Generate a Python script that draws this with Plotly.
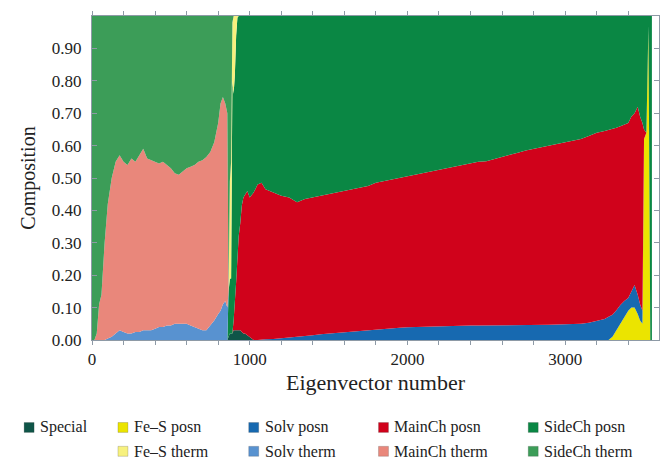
import plotly.graph_objects as go

# ---- eigenvector composition data (fraction of each mode class) ----
# thermal-fluctuation modes, eigenvectors 0-858
therm_x = [0, 15, 30, 45, 60, 80, 100, 125, 150, 175, 200, 225, 250, 275, 300, 325, 350,
           375, 400, 425, 450, 475, 500, 525, 550, 575, 600, 625, 650, 675, 700, 725, 750,
           775, 800, 815, 830, 845, 858]
therm_solv = [0, 0, 0, 0, 0, 0, 0.005, 0.01, 0.02, 0.03, 0.025, 0.02, 0.02, 0.025, 0.025,
              0.03, 0.03, 0.03, 0.035, 0.04, 0.04, 0.045, 0.045, 0.05, 0.05, 0.05, 0.05,
              0.045, 0.04, 0.035, 0.03, 0.03, 0.045, 0.06, 0.08, 0.09, 0.11, 0.12, 0.10]
therm_main = [0, 0, 0.02, 0.11, 0.14, 0.30, 0.415, 0.49, 0.53, 0.54, 0.525, 0.52, 0.54,
              0.525, 0.545, 0.56, 0.53, 0.525, 0.515, 0.505, 0.51, 0.495, 0.485, 0.465,
              0.46, 0.47, 0.48, 0.49, 0.50, 0.515, 0.525, 0.535, 0.535, 0.55, 0.59, 0.64,
              0.64, 0.61, 0.60]
therm_side = [1.0, 1.0, 0.98, 0.89, 0.86, 0.70, 0.58, 0.50, 0.45, 0.43, 0.45, 0.46, 0.44,
              0.45, 0.43, 0.41, 0.44, 0.445, 0.45, 0.455, 0.45, 0.46, 0.47, 0.485, 0.49,
              0.48, 0.47, 0.465, 0.46, 0.45, 0.445, 0.435, 0.42, 0.39, 0.33, 0.27, 0.25,
              0.27, 0.30]

# crossover region, eigenvectors 866-1000
trans_x = [866, 874, 882, 890, 898, 906, 914, 922, 930, 940, 950, 960, 970, 985, 1000]
trans_special = [0.01, 0.02, 0.02, 0.02, 0.03, 0.03, 0.03, 0.03, 0.03, 0.03, 0.025, 0.02,
                 0.02, 0.015, 0.01]
trans_main_p = [0, 0, 0, 0, 0.03, 0.08, 0.15, 0.22, 0.29, 0.33, 0.39, 0.42, 0.43, 0.445, 0.43]
trans_side_p = [0.14, 0.17, 0.17, 0.78, 0.70, 0.71, 0.76, 0.745, 0.68, 0.64, 0.585, 0.56,
                0.55, 0.54, 0.56]
trans_fes_t = [0, 0.30, 0.36, 0.18, 0.24, 0.18, 0.06, 0.005, 0, 0, 0, 0, 0, 0, 0]
trans_side_t = [0.85, 0.51, 0.45, 0.02, 0, 0, 0, 0, 0, 0, 0, 0, 0, 0, 0]

# positional-displacement modes, eigenvectors 1025-3250
posn_x = [1025, 1050, 1075, 1100, 1150, 1200, 1250, 1300, 1350, 1400, 1450, 1500, 1550,
          1600, 1650, 1700, 1750, 1800, 1850, 1900, 1950, 2000, 2050, 2100, 2150, 2200,
          2250, 2300, 2350, 2400, 2450, 2500, 2550, 2600, 2650, 2700, 2750, 2800, 2850,
          2900, 2950, 3000, 3050, 3100, 3150, 3200, 3250]
posn_solv = [0.0, 0.0, 0.0, 0.002, 0.003, 0.005, 0.008, 0.010, 0.012, 0.015, 0.018, 0.020,
             0.022, 0.025, 0.027, 0.030, 0.031, 0.033, 0.034, 0.036, 0.038, 0.039, 0.040,
             0.041, 0.042, 0.043, 0.043, 0.044, 0.044, 0.045, 0.045, 0.045, 0.045, 0.045,
             0.045, 0.046, 0.046, 0.046, 0.047, 0.047, 0.048, 0.048, 0.049, 0.050, 0.053,
             0.058, 0.065]
posn_main = [0.455, 0.480, 0.485, 0.463, 0.452, 0.440, 0.432, 0.415, 0.423, 0.425, 0.427,
             0.430, 0.433, 0.435, 0.438, 0.440, 0.444, 0.452, 0.456, 0.459, 0.462, 0.466,
             0.470, 0.474, 0.478, 0.482, 0.487, 0.491, 0.496, 0.500, 0.505, 0.507, 0.513,
             0.520, 0.525, 0.532, 0.539, 0.544, 0.548, 0.553, 0.557, 0.562, 0.566, 0.570,
             0.577, 0.582, 0.580]
posn_side = [0.545, 0.520, 0.515, 0.535, 0.545, 0.555, 0.560, 0.575, 0.565, 0.560, 0.555,
             0.550, 0.545, 0.540, 0.535, 0.530, 0.525, 0.515, 0.510, 0.505, 0.500, 0.495,
             0.490, 0.485, 0.480, 0.475, 0.470, 0.465, 0.460, 0.455, 0.450, 0.448, 0.442,
             0.435, 0.430, 0.422, 0.415, 0.410, 0.405, 0.400, 0.395, 0.390, 0.385, 0.380,
             0.370, 0.360, 0.355]

# high-frequency tail with Fe-S cluster modes, eigenvectors 3275-3550
tail_x = [3275, 3300, 3325, 3350, 3375, 3400, 3420, 3440, 3460, 3475, 3490, 3500, 3515,
          3528, 3540, 3550]
tail_fes = [0.0, 0.01, 0.03, 0.05, 0.07, 0.09, 0.10, 0.10, 0.08, 0.06, 0.05, 0.62, 0.64,
            0.97, 0, 0]
tail_solv = [0.072, 0.068, 0.062, 0.058, 0.05, 0.04, 0.05, 0.07, 0.06, 0.05, 0.04, 0, 0,
             0, 0, 0]
tail_main = [0.576, 0.572, 0.563, 0.552, 0.545, 0.54, 0.54, 0.53, 0.58, 0.58, 0.58, 0.03,
             0, 0, 0, 0]
tail_side = [0.352, 0.35, 0.345, 0.34, 0.335, 0.33, 0.31, 0.30, 0.28, 0.31, 0.33, 0.35,
             0.36, 0.03, 1.0, 1.0]

# ---- assemble full series (layers absent from a region are zero there) ----
segments = [
    (therm_x, {"SideCh therm": therm_side, "MainCh therm": therm_main,
               "Solv therm": therm_solv}),
    (trans_x, {"Special": trans_special, "MainCh posn": trans_main_p,
               "SideCh posn": trans_side_p, "Fe\u2013S therm": trans_fes_t,
               "SideCh therm": trans_side_t}),
    (posn_x, {"Solv posn": posn_solv, "MainCh posn": posn_main, "SideCh posn": posn_side}),
    (tail_x, {"Fe\u2013S posn": tail_fes, "Solv posn": tail_solv, "MainCh posn": tail_main,
              "SideCh posn": tail_side}),
]

# stacking order, bottom to top
layers = ["Special", "Fe\u2013S posn", "Solv posn", "MainCh posn", "SideCh posn",
          "Fe\u2013S therm", "Solv therm", "MainCh therm", "SideCh therm"]
colors = {
    "Special": "#0f5548",
    "Fe\u2013S posn": "#ebe400",
    "Solv posn": "#1769b0",
    "MainCh posn": "#d0021b",
    "SideCh posn": "#0a8744",
    "Fe\u2013S therm": "#f7f17e",
    "Solv therm": "#5892d0",
    "MainCh therm": "#e9877b",
    "SideCh therm": "#3c9d58",
}

eig = []
series = {name: [] for name in layers}
for xs, vals in segments:
    eig.extend(xs)
    for name in layers:
        v = vals.get(name)
        if v is None:
            series[name].extend([0.0] * len(xs))
        else:
            assert len(v) == len(xs), name
            series[name].extend(v)

fig = go.Figure()
for name in layers:
    fig.add_trace(go.Scatter(
        x=eig, y=series[name], name=name, mode="lines", stackgroup="comp",
        line=dict(width=0, color=colors[name]), fillcolor=colors[name],
        showlegend=False, hoverinfo="x+y+name",
    ))

# ---- layout ----
W, H = 671, 464
L, R, T, B = 92, 660, 14, 340
FONT = "Liberation Serif, Times New Roman, serif"
AX = "#8e9aa6"


def px_x(p):
    return (p - L) / (R - L)


def px_y(p):
    return (B - p) / (B - T)


fig.update_layout(
    width=W, height=H,
    margin=dict(l=L, r=W - R, t=T, b=H - B),
    paper_bgcolor="white", plot_bgcolor="white",
    font=dict(family=FONT, size=17, color="#222222"),
    showlegend=False,
)

fig.update_xaxes(
    range=[0, 3595], dtick=1000, tick0=0,
    showgrid=False, zeroline=False,
    showline=True, linecolor=AX, linewidth=1, mirror="ticks",
    ticks="outside", ticklen=4, tickcolor=AX,
    minor=dict(dtick=200, ticks="outside", ticklen=4, tickcolor=AX),
    tickfont=dict(family=FONT, size=17),
    title=dict(text="Eigenvector number", font=dict(family=FONT, size=22), standoff=6),
)

y_ticks = [0.0, 0.1, 0.2, 0.3, 0.4, 0.5, 0.6, 0.7, 0.8, 0.9]
fig.update_yaxes(
    range=[0, 1.0], tickvals=y_ticks, ticktext=[f"{v:.2f}" for v in y_ticks],
    showgrid=False, zeroline=False,
    showline=True, linecolor=AX, linewidth=1, mirror="ticks",
    ticks="inside", ticklen=5, tickcolor=AX, ticklabelstandoff=6,
    tickfont=dict(family=FONT, size=17),
    title=dict(text="Composition", font=dict(family=FONT, size=20), standoff=10),
)

# ---- legend: two rows of colour keys below the axes ----
legend_rows = [
    ["Special", "Fe\u2013S posn", "Solv posn", "MainCh posn", "SideCh posn"],
    [None, "Fe\u2013S therm", "Solv therm", "MainCh therm", "SideCh therm"],
]
key_left = [24, 118, 249, 379, 529]
row_mid = [428, 452]
key = 10
for r, row in enumerate(legend_rows):
    for c, name in enumerate(row):
        if name is None:
            continue
        x0 = key_left[c]
        yc = row_mid[r]
        fig.add_shape(
            type="rect", xref="paper", yref="paper",
            x0=px_x(x0), x1=px_x(x0 + key),
            y0=px_y(yc + key / 2), y1=px_y(yc - key / 2),
            fillcolor=colors[name], line=dict(color="rgba(60,60,60,0.35)", width=0.6),
        )
        fig.add_annotation(
            x=px_x(x0 + key + 4), y=px_y(yc), xref="paper", yref="paper",
            text=name, showarrow=False, xanchor="left", yanchor="middle",
            font=dict(family=FONT, size=16, color="#222222"),
        )

fig.write_html("out.html")
